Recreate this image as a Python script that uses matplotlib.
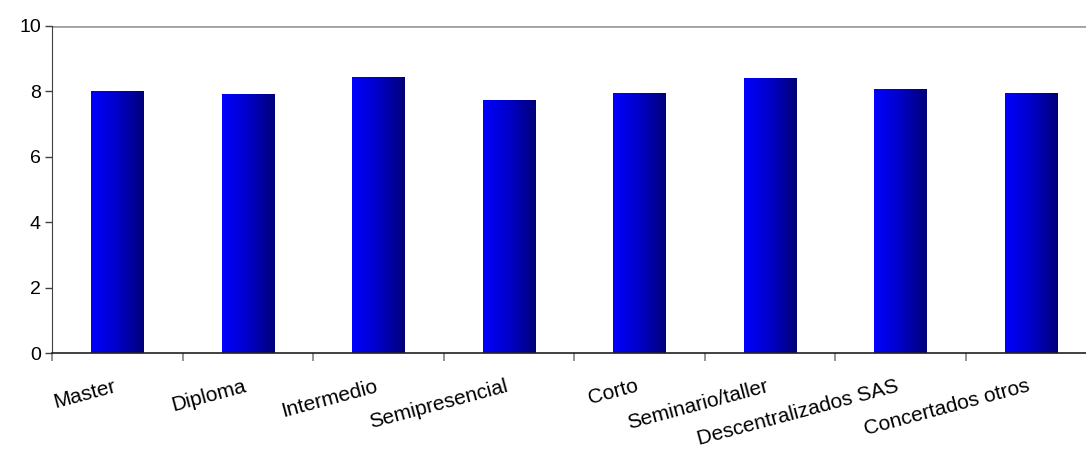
import numpy as np
import matplotlib
matplotlib.use("Agg")
import matplotlib.pyplot as plt
import matplotlib.transforms as mtransforms
from matplotlib.colors import LinearSegmentedColormap

plt.rcParams['font.family'] = ['Liberation Sans', 'DejaVu Sans']

categories = ["Master", "Diploma", "Intermedio", "Semipresencial", "Corto",
              "Seminario/taller", "Descentralizados SAS", "Concertados otros"]
values = [8.0, 7.89, 8.44, 7.71, 7.95, 8.38, 8.07, 7.95]
y_ticks = [0, 2, 4, 6, 8, 10]

blue_grad = LinearSegmentedColormap.from_list("bg", ["#0000ff", "#0000c8", "#000078"])
grad = np.linspace(0, 1, 256).reshape(1, -1)

fig = plt.figure(figsize=[10.86, 4.5], dpi=100)
ax = fig.add_axes([52 / 1086, 97 / 450, 1044 / 1086, 327 / 450])

x = np.arange(len(categories))
width = 0.4
for xi, v in zip(x, values):
    ax.imshow(grad, cmap=blue_grad, aspect='auto', interpolation='bilinear',
              extent=[xi - width / 2, xi + width / 2, 0, v], zorder=2)

ax.set_xlim(-0.5, len(categories) - 0.5)
ax.set_ylim(0, 10)
ax.set_yticks(y_ticks)
ax.tick_params(axis='y', labelsize=14, length=5, width=1, color='#404040', pad=3)

ax.set_xticks(np.arange(len(categories) + 1) - 0.5)
ax.set_xticklabels([])
ax.set_xticks(x, minor=True)
ax.set_xticklabels(categories, minor=True, rotation=15, ha='right',
                   rotation_mode='anchor', fontsize=15)
ax.tick_params(axis='x', which='major', length=6, width=1.2, color='#808080')
ax.tick_params(axis='x', which='minor', length=0, pad=17)

# nudge category labels a little to the left
shift = mtransforms.ScaledTranslation(-4 / 100, 0, fig.dpi_scale_trans)
for lab in ax.get_xticklabels(minor=True):
    lab.set_transform(lab.get_transform() + shift)

ax.axhline(10, color='#a0a0a0', lw=2, zorder=1)
for s in ['top', 'right']:
    ax.spines[s].set_visible(False)
ax.spines['left'].set_color('#404040')
ax.spines['bottom'].set_color('#202020')
ax.spines['bottom'].set_linewidth(1.2)

fig.savefig("out.png", dpi=100)
